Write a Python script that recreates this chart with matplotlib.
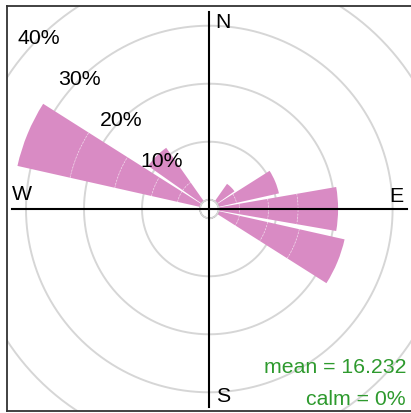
import numpy as np
import matplotlib
matplotlib.use('Agg')
import matplotlib.pyplot as plt
from matplotlib.patches import Circle

plt.rcParams['font.family'] = ['Liberation Sans', 'DejaVu Sans']

# wind direction sectors (degrees from north) and stacked frequencies (%)
directions = [45, 67.5, 90, 112.5, 292.5, 315]
bin1 = [3.7, 3.2, 3.6, 3.7, 4.0, 4.0]
bin2 = [0.0, 7.5, 5.0, 5.0, 4.6, 7.3]
bin3 = [0.0, 0.0, 5.1, 5.6, 6.5, 0.0]
bin4 = [0.0, 0.0, 6.9, 8.0, 7.9, 0.0]
bin5 = [0.0, 0.0, 0.0, 0.0, 9.3, 0.0]
ring_levels = [10, 20, 30, 40]
ring_labels = ['10%', '20%', '30%', '40%']
compass = ['N', 'E', 'S', 'W']
mean_txt = 'mean = 16.232'
calm_txt = 'calm = 0%'

petal_col = '#d98bc4'
grid_col = '#d6d6d6'
fs = 15.3

W, H = 411, 413
cx, cy = 209.3, 209.0          # centre in pixels (from top-left)
ppu = 5.8                      # pixels per 1 %
off = 9.3                      # calm circle radius, pixels
rmax = 52
R = off + rmax * ppu

fig = plt.figure(figsize=(W / 100, H / 100), dpi=100)

ax = fig.add_axes([(cx - R) / W, (H - cy - R) / H, 2 * R / W, 2 * R / H], projection='polar')
fr = fig.add_axes([6.5 / W, (H - 410.5) / H, (412 - 6.5) / W, (410.5 - 5.5) / H])

ax.set_theta_zero_location('N')
ax.set_theta_direction(-1)
ax.grid(False)
ax.set_xticks([])
ax.set_yticks([])
for s in ax.spines.values():
    s.set_visible(False)
ax.patch.set_edgecolor('none')

# rings
tt = np.linspace(0, 2 * np.pi, 721)
for lv in ring_levels:
    ln, = ax.plot(tt, np.full_like(tt, lv), color=grid_col, lw=1.4, zorder=0.5)
    ln.set_clip_path(fr.patch)

# petals
theta = np.deg2rad(directions)
width = np.deg2rad(22.5) * 0.875
bins = [bin1, bin2, bin3, bin4, bin5]
bottom = np.zeros(len(directions))
for i, b in enumerate(bins):
    b = np.array(b)
    bars = ax.bar(theta, b, width=width, bottom=bottom, color=petal_col,
                  edgecolor='none', linewidth=0, zorder=1)
    for p in bars:
        p.set_clip_path(fr.patch)
    bottom = bottom + b
    # faint boundaries between stacked intervals
    if i < len(bins) - 1:
        nxt = np.array(bins[i + 1])
        for th, top, n in zip(theta, bottom, nxt):
            if n > 0:
                ta = np.linspace(th - width / 2, th + width / 2, 30)
                ax.plot(ta, np.full_like(ta, top), color='white', lw=0.6,
                        ls=(0, (2, 2)), alpha=0.5, zorder=1.5)

for lv, lab in zip(ring_levels, ring_labels):
    ax.text(np.deg2rad(315), lv, lab, ha='center', va='center', fontsize=fs, zorder=3)

ax.set_rorigin(-off / ppu)
ax.set_ylim(0, rmax)

# overlay: frame, cross, labels (pixel units around centre)
fr.set_xlim(6.5 - cx, 412 - cx)
fr.set_ylim(cy - 410.5, cy - 5.5)
fr.patch.set_facecolor('none')
fr.set_xticks([])
fr.set_yticks([])
for s in fr.spines.values():
    s.set_color('#333333')
    s.set_linewidth(1.3)

# calm circle
fr.add_patch(Circle((0, 0), off, facecolor='none', edgecolor=grid_col, lw=1.4, zorder=1))

fr.plot([0, 0], [cy - 406.7, cy - 11.7], color='black', lw=1.5, zorder=2)
fr.plot([12.3 - cx, 407.3 - cx], [0, 0], color='black', lw=1.5, zorder=2)

pos = {'N': (13.7, 186.3), 'E': (187.4, 13.0), 'S': (13.7, -187.7), 'W': (-187.6, 14.0)}
for c in compass:
    fr.text(pos[c][0], pos[c][1], c, ha='center', va='center', fontsize=fs)

fr.text(406 - cx, cy - 373, mean_txt, ha='right', va='baseline', fontsize=fs, color='#2e9a2e')
fr.text(406 - cx, cy - 405, calm_txt, ha='right', va='baseline', fontsize=fs, color='#2e9a2e')

fig.savefig('out.png', dpi=100)
